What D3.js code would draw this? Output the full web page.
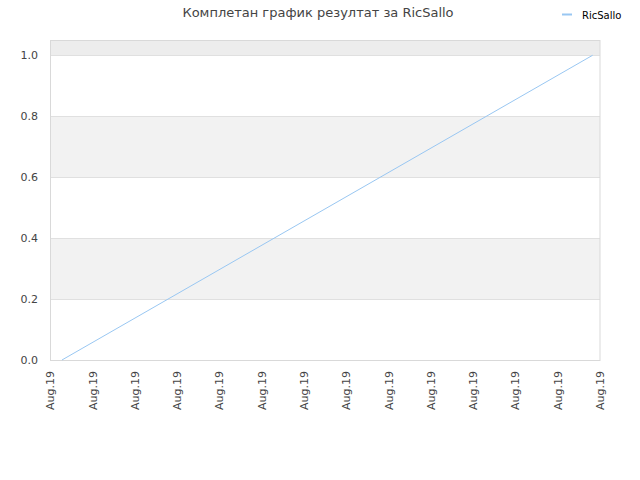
<!DOCTYPE html>
<html>
<head>
<meta charset="utf-8">
<script src="https://cdn.jsdelivr.net/npm/d3@7"></script>
<style>
  body { margin: 0; padding: 0; background: #fff; }
  svg { font-family: "DejaVu Sans", sans-serif; }
</style>
</head>
<body>
<div id="chart"></div>
<script>
// chart data
var title = "Комплетан график резултат за RicSallo";
var seriesName = "RicSallo";
var dates = ["2019-08-01T06:30", "2019-08-13T19:50"];
var values = [0, 1];
var yTicks = [0, 0.2, 0.4, 0.6, 0.8, 1.0];
var xStart = "2019-08-01", xEnd = "2019-08-14";

var width = 640, height = 480;
var m = {top: 40, right: 40, bottom: 120, left: 50.5};

var svg = d3.select("#chart").append("svg")
  .attr("width", width).attr("height", height);

var parse = d3.isoParse;
var pts = dates.map(function(d, i) { return {t: parse(d), v: values[i]}; });

var x = d3.scaleTime()
  .domain([parse(xStart), parse(xEnd)])
  .range([m.left, width - m.right]);
var y = d3.scaleLinear()
  .domain([0, 1.05])
  .range([height - m.bottom, m.top]);

// alternating bands
var bandEdges = yTicks.concat([1.05]);
var bands = d3.range(bandEdges.length - 1).map(function(i) {
  return {lo: bandEdges[i], hi: bandEdges[i + 1], i: i};
});
svg.append("g").selectAll("rect").data(bands).enter().append("rect")
  .attr("x", m.left)
  .attr("width", x.range()[1] - m.left)
  .attr("y", function(d) { return y(d.hi); })
  .attr("height", function(d) { return y(d.lo) - y(d.hi); })
  .attr("fill", function(d) {
    if (d.hi > 1) return "#ededed";
    return d.i % 2 ? "#f2f2f2" : "#ffffff";
  });

// grid lines
svg.append("g").selectAll("line").data(yTicks).enter().append("line")
  .attr("x1", m.left).attr("x2", x.range()[1])
  .attr("y1", function(d) { return Math.round(y(d)) + 0.5; })
  .attr("y2", function(d) { return Math.round(y(d)) + 0.5; })
  .attr("stroke", "#e0e0e0");

// plot border
svg.append("rect")
  .attr("x", m.left).attr("y", m.top + 0.5)
  .attr("width", x.range()[1] - m.left)
  .attr("height", y(0) - m.top)
  .attr("fill", "none").attr("stroke", "#d9d9d9");

// y labels
svg.append("g").selectAll("text").data(yTicks).enter().append("text")
  .attr("x", 38).attr("y", function(d) { return y(d); })
  .attr("dy", "0.35em")
  .attr("text-anchor", "end")
  .attr("font-size", 11).attr("fill", "#444")
  .text(d3.format(".1f"));

// x labels
var xTicks = d3.timeDay.range(parse(xStart), d3.timeDay.offset(parse(xEnd), 1));
svg.append("g").selectAll("text").data(xTicks).enter().append("text")
  .attr("transform", function(d) { return "translate(" + x(d) + "," + (y(0) + 11) + ") rotate(-90)"; })
  .attr("dy", "0.35em")
  .attr("text-anchor", "end")
  .attr("font-size", 11).attr("fill", "#444")
  .text(d3.timeFormat("%b.%y"));

// line
var line = d3.line()
  .x(function(d) { return x(d.t); })
  .y(function(d) { return y(d.v); });
svg.append("path").datum(pts)
  .attr("d", line)
  .attr("fill", "none")
  .attr("stroke", "#99c7f2")
  .attr("stroke-width", 1);

// title
svg.append("text")
  .attr("x", 318).attr("y", 17)
  .attr("text-anchor", "middle")
  .attr("font-size", 13).attr("fill", "#444")
  .text(title);

// legend
svg.append("line")
  .attr("x1", 562).attr("x2", 572).attr("y1", 14.5).attr("y2", 14.5)
  .attr("stroke", "#99c7f2").attr("stroke-width", 2);
svg.append("text")
  .attr("x", 582).attr("y", 15)
  .attr("dy", "0.35em")
  .attr("font-size", 10).attr("fill", "#000")
  .text(seriesName);
</script>
</body>
</html>
